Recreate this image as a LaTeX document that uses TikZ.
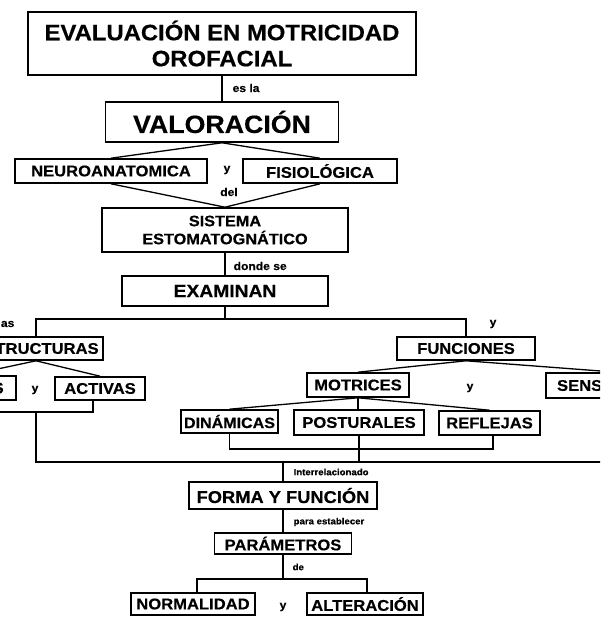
\documentclass[tikz,border=0pt]{standalone}
\usepackage{fontspec}
\setmainfont{Liberation Sans}[FakeStretch=1.07,BoldFeatures={FakeBold=0.4}]
\usepackage{tikz}

\begin{document}
\begin{tikzpicture}[x=1pt,y=-1pt,line width=1.3pt,
    caja/.style={draw,line width=1.6pt,inner sep=0pt,align=center,
      font=\bfseries\fontsize{15.5}{19}\selectfont},
    enlace/.style={inner sep=0pt,font=\bfseries\fontsize{11.3}{13}\selectfont},
    mini/.style={inner sep=0pt,font=\bfseries\fontsize{9}{11}\selectfont}]
          \useasboundingbox (0,0) rectangle (600,628);%
          \clip (0,0) rectangle (600,628);%
          \fill[white] (0,0) rectangle (600,628);%

          % cajas
          \node[caja,minimum width=388pt,minimum height=63pt,
            font=\bfseries\fontsize{22.3}{26}\selectfont] (titulo) at (222,43.5)
            {EVALUACIÓN EN MOTRICIDAD\\OROFACIAL};%
          \node[caja,minimum width=233pt,minimum height=40pt,
            font=\bfseries\fontsize{25}{28}\selectfont] (valoracion) at (222,122) {VALORACIÓN};%
          \node[caja,minimum width=192pt,minimum height=24pt] (neuro) at (111,171) {NEUROANATOMICA};%
          \node[caja,minimum width=154pt,minimum height=24pt] (fisio) at (320,171) {FISIOLÓGICA};%
          \node[caja,minimum width=246pt,minimum height=44pt,
            font=\bfseries\fontsize{15.2}{18}\selectfont] (sistema) at (225,230) {SISTEMA\\ESTOMATOGNÁTICO};%
          \node[caja,minimum width=206pt,minimum height=30pt,
            font=\bfseries\fontsize{18}{21}\selectfont] (examinan) at (225,291) {EXAMINAN};%
          \node[caja,minimum width=134pt,minimum height=23pt] (estructuras) at (36,348.5) {ESTRUCTURAS};%
          \node[caja,minimum width=138pt,minimum height=23pt] (funciones) at (466,348.5) {FUNCIONES};%
          \node[caja,minimum width=95pt,minimum height=24pt] (pasivas) at (-31.5,388) {PASIVAS};%
          \node[caja,minimum width=90pt,minimum height=23pt] (activas) at (100,388.5) {ACTIVAS};%
          \node[caja,minimum width=102pt,minimum height=24pt] (motrices) at (358,385) {MOTRICES};%
          \node[caja,minimum width=141pt,minimum height=25pt] (sensoriales) at (616.5,385.5) {SENSORIALES};%
          \node[caja,minimum width=97pt,minimum height=23pt,
            font=\bfseries\fontsize{15}{19}\selectfont] (dinamicas) at (229.5,421.5) {DINÁMICAS};%
          \node[caja,minimum width=130pt,minimum height=25pt] (posturales) at (359,422.5) {POSTURALES};%
          \node[caja,minimum width=101pt,minimum height=24pt] (reflejas) at (489.5,423) {REFLEJAS};%
          \node[caja,minimum width=188pt,minimum height=27pt,
            font=\bfseries\fontsize{17.1}{20}\selectfont] (forma) at (283,495.5) {FORMA Y FUNCIÓN};%
          \node[caja,minimum width=137pt,minimum height=21pt] (parametros) at (283,543.5) {PARÁMETROS};%
          \node[caja,minimum width=124pt,minimum height=22pt] (normalidad) at (193,604) {NORMALIDAD};%
          \node[caja,minimum width=116pt,minimum height=22pt] (alteracion) at (365,604) {ALTERACIÓN};%

          % textos de enlace
          \node[enlace,anchor=west] (esla) at (232,88) {es la};%
          \node[enlace] (yA) at (227,170) {y};%
          \node[enlace] (del) at (229,192) {del};%
          \node[enlace,anchor=west] (dondese) at (233,266) {donde se};%
          \node[enlace,anchor=east] (las) at (15,324) {as};%
          \node[enlace] (yB) at (493,324) {y};%
          \node[enlace] (yC) at (35,390) {y};%
          \node[enlace] (yD) at (470,388) {y};%
          \node[mini,anchor=west] (inter) at (293,472) {Interrelacionado};%
          \node[mini,anchor=west] (para) at (293,522) {para establecer};%
          \node[mini,anchor=west] (de) at (292,567) {de};%
          \node[enlace] (yE) at (283,607) {y};%

          % puntos de union
          \coordinate (ramal) at (225,319);%
          \coordinate (unionE) at (36,412);%
          \coordinate (unionM) at (359,449);%
          \coordinate (base) at (283,462);%
          \coordinate (ramalP) at (283,579);%

          % conectores
          \draw (titulo.south) -- (titulo.south |- valoracion.north);%
          \draw (valoracion.south) -- (neuro.north);%
          \draw (valoracion.south) -- (fisio.north);%
          \draw (neuro.south) -- (sistema.north);%
          \draw (fisio.south) -- (sistema.north);%
          \draw (sistema.south) -- (examinan.north);%
          \draw (examinan.south) -- (ramal);%
          \draw (estructuras.north) |- (ramal) -| (funciones.north);%
          \draw (estructuras.south) -- (pasivas.north);%
          \draw (estructuras.south) -- (activas.north);%
          \draw (funciones.south) -- (motrices.north);%
          \draw (funciones.south) -- (sensoriales.north);%
          \draw (motrices.south) -- (dinamicas.north);%
          \draw (motrices.south) -- (motrices.south |- posturales.north);%
          \draw (motrices.south) -- (reflejas.north);%
          \draw (pasivas.south) |- (unionE) -| ([xshift=-7pt]activas.south);%
          \draw (dinamicas.south) |- (unionM) -| ([xshift=3.5pt]reflejas.south);%
          \draw (unionE) |- (base) -| (sensoriales.south);%
          \draw (posturales.south) -- (posturales.south |- base);%
          \draw (base) -- (forma.north);%
          \draw (forma.south) -- (parametros.north);%
          \draw (parametros.south) -- (ramalP);%
          \draw ([xshift=4pt]normalidad.north) |- (ramalP) -| ([xshift=2pt]alteracion.north);%
    \end{tikzpicture}
\end{document}
